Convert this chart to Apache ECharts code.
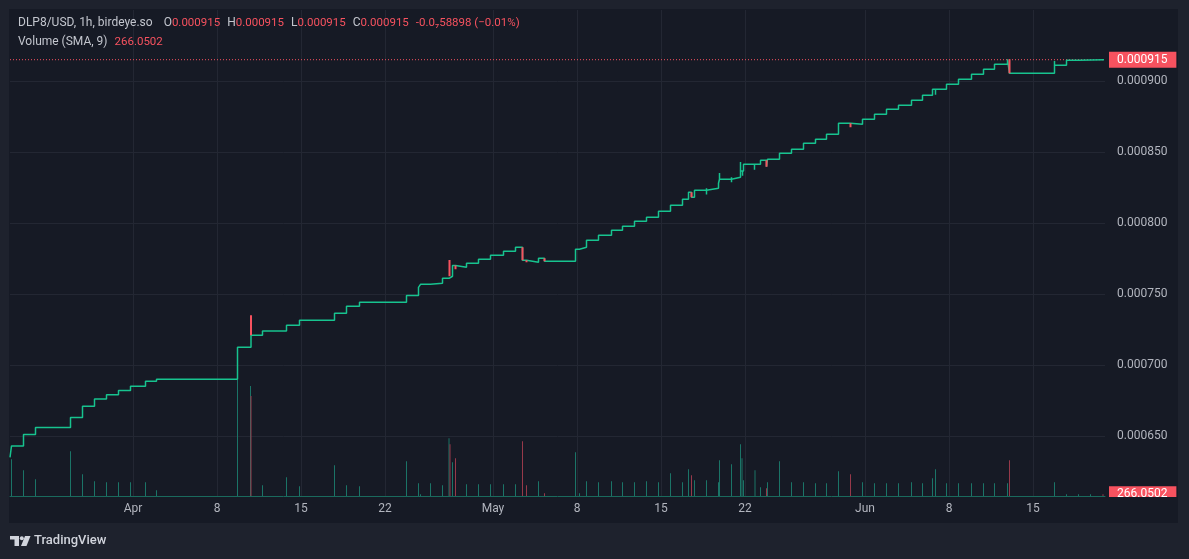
<!DOCTYPE html>
<html><head><meta charset="utf-8">
<script src="https://cdn.jsdelivr.net/npm/echarts@6/dist/echarts.min.js"></script>
<style>
html,body{margin:0;padding:0;background:#1e222d;overflow:hidden;}
#pane{position:absolute;left:9px;top:9px;width:1169px;height:514px;background:#161a25;}
#c{position:absolute;left:0;top:0;width:1189px;height:559px;}
</style></head><body>
<div id="pane"></div><div id="c"></div>
<script>
// ---- data (hourly candles) ----
const symbolText = 'DLP8/USD, 1h, birdeye.so';
const lastOHLC = [0.000915, 0.000915, 0.000915, 0.000915];
const changeText = '-0.0\u208758898 (\u22120.01%)';
const volSma = 266.0502;

const tickDates = ['2025-04-01 00:00','2025-04-08 00:00','2025-04-15 00:00','2025-04-22 00:00','2025-05-01 00:00','2025-05-08 00:00','2025-05-15 00:00','2025-05-22 00:00','2025-06-01 00:00','2025-06-08 00:00','2025-06-15 00:00'];
const monthNames = ['Jan','Feb','Mar','Apr','May','Jun','Jul','Aug','Sep','Oct','Nov','Dec'];
const timeRange = ['2025-03-21 18:00','2025-06-21 00:00'];
const priceRange = [0.0006, 0.00095, 0.00005];

// price level changes (close of each hour holds until next change)
const priceSteps = [
 ['2025-03-21 18:00',0.000635],['2025-03-21 21:00',0.000643],['2025-03-22 21:00',0.000651],['2025-03-23 21:00',0.000656],
 ['2025-03-26 19:00',0.000663],['2025-03-27 19:00',0.000671],['2025-03-28 19:00',0.000676],['2025-03-29 19:00',0.000679],
 ['2025-03-30 19:00',0.000682],['2025-03-31 19:00',0.000685],['2025-04-02 01:00',0.0006885],['2025-04-02 23:00',0.00069],
 ['2025-04-09 17:00',0.0007125],['2025-04-10 20:00',0.000721],['2025-04-11 19:00',0.000724],['2025-04-13 19:00',0.000728],
 ['2025-04-14 21:00',0.0007315],['2025-04-17 19:00',0.0007364],['2025-04-18 19:00',0.0007413],['2025-04-19 21:00',0.0007442],
 ['2025-04-23 19:00',0.000749],['2025-04-24 19:00',0.0007547],['2025-04-24 23:00',0.0007568],['2025-04-25 19:00',0.0007575],
 ['2025-04-26 19:00',0.0007611],['2025-04-27 09:00',0.0007625],['2025-04-27 15:00',0.00077],['2025-04-27 21:00',0.0007688],
 ['2025-04-28 19:00',0.0007716],['2025-04-29 19:00',0.0007744],['2025-04-30 19:00',0.0007773],['2025-05-01 21:00',0.0007801],
 ['2025-05-02 21:00',0.0007829],['2025-05-03 11:00',0.0007737],['2025-05-03 19:00',0.0007723],['2025-05-04 19:00',0.0007751],
 ['2025-05-05 07:00',0.000773],['2025-05-07 21:00',0.0007815],['2025-05-08 05:00',0.0007829],['2025-05-08 19:00',0.0007878],
 ['2025-05-09 19:00',0.0007913],['2025-05-10 21:00',0.0007949],['2025-05-11 19:00',0.0007977],['2025-05-12 19:00',0.0008012],
 ['2025-05-13 19:00',0.000804],['2025-05-14 19:00',0.0008082],['2025-05-15 19:00',0.0008125],['2025-05-16 19:00',0.0008167],
 ['2025-05-17 07:00',0.0008216],['2025-05-17 13:00',0.0008181],['2025-05-17 19:00',0.000823],['2025-05-18 19:00',0.0008244],
 ['2025-05-19 19:00',0.000828],['2025-05-19 21:00',0.0008308],['2025-05-20 21:00',0.0008322],['2025-05-21 15:00',0.0008366],
 ['2025-05-21 21:00',0.0008413],['2025-05-23 07:00',0.0008442],['2025-05-23 19:00',0.0008397],['2025-05-23 21:00',0.0008449],
 ['2025-05-24 21:00',0.0008491],['2025-05-25 21:00',0.0008519],['2025-05-26 21:00',0.0008561],['2025-05-27 21:00',0.000859],
 ['2025-05-28 19:00',0.0008625],['2025-05-29 19:00',0.0008702],['2025-05-30 19:00',0.0008695],['2025-05-31 19:00',0.000873],
 ['2025-06-01 19:00',0.0008766],['2025-06-02 19:00',0.0008801],['2025-06-03 19:00',0.0008829],['2025-06-04 21:00',0.0008864],
 ['2025-06-05 19:00',0.00089],['2025-06-06 15:00',0.0008942],['2025-06-07 19:00',0.0008977],['2025-06-08 19:00',0.0009012],
 ['2025-06-09 21:00',0.0009047],['2025-06-10 21:00',0.0009082],['2025-06-11 19:00',0.0009118],['2025-06-12 21:00',0.0009153],
 ['2025-06-13 01:00',0.0009054],['2025-06-16 19:00',0.0009111],['2025-06-17 19:00',0.0009146],['2025-06-18 19:00',0.000915],
 ['2025-06-20 22:00',0.000915]
];
// down candles / red wicks: [time, from, to]
const downMoves = [
 ['2025-04-10 20:00',0.000721,0.000735],['2025-04-27 09:00',0.0007625,0.000774],['2025-04-27 21:00',0.00077,0.0007674],
 ['2025-05-03 11:00',0.0007829,0.0007737],['2025-05-03 19:00',0.0007737,0.0007723],['2025-05-05 07:00',0.0007751,0.000773],
 ['2025-05-17 13:00',0.0008216,0.0008181],['2025-05-23 19:00',0.0008442,0.0008397],['2025-05-30 19:00',0.0008702,0.0008674],
 ['2025-06-13 01:00',0.0009153,0.0009054]
];
// up-candle wicks: [time, from, to]
const upWicks = [
 ['2025-05-18 19:00',0.0008244,0.00082],['2025-05-19 21:00',0.0008308,0.0008352],['2025-05-20 21:00',0.0008322,0.0008287],
 ['2025-05-21 15:00',0.0008366,0.000843],['2025-05-21 19:00',0.0008366,0.0008333],['2025-05-22 19:00',0.0008413,0.0008375],
 ['2025-06-06 21:00',0.0008942,0.0008904],['2025-06-16 19:00',0.0009111,0.0009141]
];
const volUp = [
 ['2025-03-21 21:00',5500],['2025-03-22 21:00',3860],['2025-03-23 21:00',2500],['2025-03-26 19:00',6700],['2025-03-27 19:00',3260],
 ['2025-03-28 19:00',2200],['2025-03-29 19:00',2060],['2025-03-30 19:00',2060],['2025-03-31 19:00',2060],['2025-04-02 01:00',2060],
 ['2025-04-02 23:00',860],['2025-04-09 17:00',17400],['2025-04-10 19:00',16500],['2025-04-11 19:00',1600],['2025-04-13 19:00',2800],
 ['2025-04-14 21:00',1460],['2025-04-17 19:00',4600],['2025-04-18 19:00',1600],['2025-04-19 21:00',1460],['2025-04-23 19:00',5200],
 ['2025-04-24 19:00',1900],['2025-04-24 23:00',260],['2025-04-25 19:00',1900],['2025-04-26 19:00',1600],['2025-04-27 08:00',8660],
 ['2025-04-27 15:00',5060],['2025-04-28 19:00',1760],['2025-04-29 19:00',1760],['2025-04-30 19:00',1760],['2025-05-01 21:00',1760],
 ['2025-05-02 21:00',1760],['2025-05-04 19:00',2200],['2025-05-07 21:00',6560],['2025-05-08 05:00',400],['2025-05-08 19:00',2200],
 ['2025-05-09 19:00',2060],['2025-05-10 21:00',2200],['2025-05-11 19:00',2060],['2025-05-12 19:00',2060],['2025-05-13 19:00',2200],
 ['2025-05-14 19:00',2060],['2025-05-15 19:00',3400],['2025-05-16 19:00',2060],['2025-05-17 07:00',4000],['2025-05-17 19:00',2360],
 ['2025-05-18 19:00',2360],['2025-05-19 19:00',2060],['2025-05-19 21:00',5360],['2025-05-20 21:00',4760],['2025-05-21 15:00',7760],
 ['2025-05-21 18:00',5660],['2025-05-21 21:00',2360],['2025-05-22 20:00',3860],['2025-05-23 07:00',1300],['2025-05-23 21:00',2060],
 ['2025-05-24 21:00',5200],['2025-05-25 21:00',2060],['2025-05-26 21:00',2060],['2025-05-27 21:00',1900],['2025-05-28 19:00',1900],
 ['2025-05-29 19:00',3700],['2025-05-31 19:00',2060],['2025-06-01 19:00',1900],['2025-06-02 19:00',1900],['2025-06-03 19:00',1900],
 ['2025-06-04 21:00',2060],['2025-06-05 19:00',1900],['2025-06-06 15:00',2660],['2025-06-06 21:00',4000],['2025-06-07 19:00',1900],
 ['2025-06-08 19:00',1900],['2025-06-09 21:00',1900],['2025-06-10 21:00',1900],['2025-06-11 19:00',1900],['2025-06-12 21:00',1900],
 ['2025-06-16 19:00',2060],['2025-06-17 19:00',260],['2025-06-18 19:00',260],['2025-06-19 19:00',260]
];
const volDown = [
 ['2025-04-10 20:00',15000],['2025-04-27 10:00',7760],['2025-04-27 21:00',5660],['2025-05-03 11:00',8200],['2025-05-03 19:00',1600],
 ['2025-05-05 07:00',400],['2025-05-17 13:00',3100],['2025-05-23 19:00',1160],['2025-05-30 19:00',3260],['2025-06-13 01:00',5360],
 ['2025-06-20 20:00',260]
];
const volMax = 72900;

// ---- helpers / style ----
const ts = s => Date.parse(s.replace(' ', 'T') + ':00Z');
const UP = '#17c38f', DOWN = '#f7525f', VUP = '#1b7467', VDOWN = '#97394a';
const GRID = '#232733', TXT = '#b2b5be', PANE = '#161a25';
const FONT = 'Roboto';
const segs = list => list.flatMap(([t, a, b]) => [[ts(t), a], [ts(t), b], [ts(t), '-']]);
const tickTs = tickDates.map(ts);
const T0 = ts(timeRange[0]), T1 = ts(timeRange[1]);

const chart = echarts.init(document.getElementById('c'), null, {renderer: 'canvas', width: 1189, height: 559});
const header = '{g|' + symbolText + '}{s0| }' +
  ['O','H','L','C'].map((k, i) => '{g|' + k + '}{r|' + lastOHLC[i].toFixed(6) + '}{s| }').join('') +
  '{r|' + changeText + '}';
const richStyles = {
  g: {fill: '#c3c6ce', fontSize: 12, fontFamily: FONT},
  r: {fill: DOWN, fontSize: 11.5, fontFamily: FONT},
  s: {width: 7}, s0: {width: 11}
};
const boxLabel = fmt => ({show: true, distance: 4, formatter: fmt, color: '#fff', fontSize: 12,
  fontFamily: FONT, backgroundColor: DOWN, padding: [2, 9, 2, 8], lineHeight: 12});

chart.setOption({
  animation: false,
  backgroundColor: 'transparent',
  textStyle: {fontFamily: FONT},
  grid: [
    {left: 10, right: 84, top: 10, bottom: 52},
    {left: 10, right: 84, top: 10, bottom: 63}
  ],
  xAxis: [
    {type: 'value', gridIndex: 0, min: T0, max: T1, show: false},
    {type: 'value', gridIndex: 1, min: T0, max: T1,
     axisLine: {show: true, onZero: true, lineStyle: {color: '#1a6a5d', width: 1}},
     axisTick: {show: false, customValues: tickTs},
     axisLabel: {customValues: tickTs, color: TXT, fontSize: 12, fontFamily: FONT, margin: 7,
       formatter: v => { const d = new Date(v); return d.getUTCDate() === 1 ? monthNames[d.getUTCMonth()] : String(d.getUTCDate()); }},
     splitLine: {show: true, lineStyle: {color: GRID, width: 1}}}
  ],
  yAxis: [
    {type: 'value', gridIndex: 0, position: 'right', min: priceRange[0], max: priceRange[1], interval: priceRange[2],
     axisLine: {show: false}, axisTick: {show: false},
     axisLabel: {color: TXT, fontSize: 12, fontFamily: FONT, margin: 12, showMinLabel: false, showMaxLabel: false,
       formatter: v => v.toFixed(6)},
     splitLine: {show: true, showMinLine: false, showMaxLine: false, lineStyle: {color: GRID, width: 1}}},
    {type: 'value', gridIndex: 1, min: 0, max: volMax, show: false}
  ],
  series: [
    {type: 'bar', name: 'volUp', xAxisIndex: 1, yAxisIndex: 1, barWidth: 1, barGap: '-100%',
     itemStyle: {color: VUP}, data: volUp.map(([t, v]) => [ts(t), v]), z: 1},
    {type: 'bar', name: 'volDown', xAxisIndex: 1, yAxisIndex: 1, barWidth: 1, barGap: '-100%',
     itemStyle: {color: VDOWN}, data: volDown.map(([t, v]) => [ts(t), v]), z: 1},
    {type: 'line', name: 'volSma', xAxisIndex: 1, yAxisIndex: 1, symbol: 'none', z: 2, clip: false,
     lineStyle: {width: 0, opacity: 0}, data: [[T0, volSma], [T1, volSma]],
     endLabel: boxLabel(() => volSma.toFixed(4))},
    {type: 'line', name: 'lastPrice', xAxisIndex: 0, yAxisIndex: 0, symbol: 'none', z: 2, clip: false,
     lineStyle: {color: DOWN, type: [1, 2], width: 1}, data: [[T0, lastOHLC[3]], [T1, lastOHLC[3]]],
     endLabel: boxLabel(() => lastOHLC[3].toFixed(6))},
    {type: 'line', name: 'price', xAxisIndex: 0, yAxisIndex: 0, step: 'end', symbol: 'none', z: 3,
     lineStyle: {color: UP, width: 1.5}, data: priceSteps.map(([t, p]) => [ts(t), p])},
    {type: 'line', name: 'wicksUp', xAxisIndex: 0, yAxisIndex: 0, symbol: 'none', z: 4, connectNulls: false,
     lineStyle: {color: UP, width: 1.5}, data: segs(upWicks)},
    {type: 'line', name: 'down', xAxisIndex: 0, yAxisIndex: 0, symbol: 'none', z: 5, connectNulls: false,
     lineStyle: {color: DOWN, width: 2}, data: segs(downMoves)}
  ],
  graphic: [
    {type: 'rect', z: 100, silent: true, shape: {x: 1105, y: 497, width: 73, height: 26}, style: {fill: PANE}},
    {type: 'text', z: 100, x: 18, y: 23, style: {text: header, verticalAlign: 'middle', rich: richStyles}},
    {type: 'text', z: 100, x: 18, y: 42, style: {text: '{g|Volume (SMA, 9)}{s| }{r|' + volSma.toFixed(4) + '}', verticalAlign: 'middle',
      rich: richStyles}},
    {type: 'group', z: 100, children: [
      {type: 'rect', shape: {x: 10, y: 536, width: 9, height: 3.5}, style: {fill: '#d1d4dc'}},
      {type: 'rect', shape: {x: 14.5, y: 536, width: 4.5, height: 10}, style: {fill: '#d1d4dc'}},
      {type: 'circle', shape: {cx: 21.8, cy: 538.2, r: 2}, style: {fill: '#d1d4dc'}},
      {type: 'polygon', shape: {points: [[25, 536], [30.5, 536], [26.5, 546], [21, 546]]}, style: {fill: '#d1d4dc'}}
    ]},
    {type: 'text', z: 100, x: 34, y: 541, style: {text: 'TradingView', verticalAlign: 'middle', fill: '#d1d4dc',
      font: '500 13px ' + FONT}}
  ]
});
</script></body></html>
